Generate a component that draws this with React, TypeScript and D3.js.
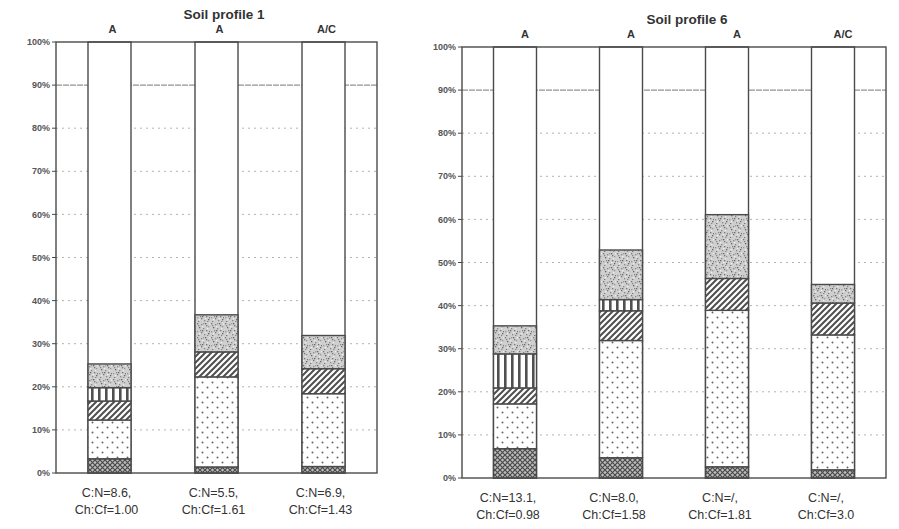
import React from "react";
import * as d3 from "d3";

// ---------- data ----------
const layerKeys = ["crosshatch", "dots", "diagonal", "vertical", "stipple"];

// Soil profile 1
const p1Horizons = ["A", "A", "A/C"];
const p1CN = ["C:N=8.6,", "C:N=5.5,", "C:N=6.9,"];
const p1ChCf = ["Ch:Cf=1.00", "Ch:Cf=1.61", "Ch:Cf=1.43"];
const p1Crosshatch = [3.3, 1.4, 1.5];
const p1Dots = [9.0, 20.9, 16.9];
const p1Diagonal = [4.4, 5.8, 5.8];
const p1Vertical = [3.1, 0, 0];
const p1Stipple = [5.5, 8.6, 7.7];

// Soil profile 6
const p6Horizons = ["A", "A", "A", "A/C"];
const p6CN = ["C:N=13.1,", "C:N=8.0,", "C:N=/,", "C:N=/,"];
const p6ChCf = ["Ch:Cf=0.98", "Ch:Cf=1.58", "Ch:Cf=1.81", "Ch:Cf=3.0"];
const p6Crosshatch = [6.8, 4.7, 2.6, 1.9];
const p6Dots = [10.4, 27.2, 36.3, 31.3];
const p6Diagonal = [3.7, 6.9, 7.4, 7.4];
const p6Vertical = [7.9, 2.6, 0, 0];
const p6Stipple = [6.5, 11.5, 14.8, 4.3];

const yTicks = [0, 10, 20, 30, 40, 50, 60, 70, 80, 90, 100];

const FONT = "'Liberation Sans', Arial, sans-serif";
const INK = "#4a4a4a";

function buildRows(cols: number, arrs: number[][]) {
  return d3.range(cols).map((i) => {
    const r: any = { i };
    layerKeys.forEach((k, j) => (r[k] = arrs[j][i]));
    return r;
  });
}

const fills: Record<string, string> = {
  crosshatch: "url(#pCross)",
  dots: "url(#pDots)",
  diagonal: "url(#pDiag)",
  vertical: "url(#pVert)",
  stipple: "url(#pStip)",
};

type PanelProps = {
  title: string;
  titleX: number;
  titleY: number;
  horizons: string[];
  cn: string[];
  chcf: string[];
  rows: any[];
  x0: number;
  x1: number;
  yTop: number;
  yBot: number;
  headerY: number;
  headerDx: number;
  labelY: number;
  labelDx: number;
};

function Panel(p: PanelProps) {
  const n = p.rows.length;
  const x = d3
    .scalePoint<number>()
    .domain(d3.range(n))
    .range([p.x0, p.x1])
    .padding(0.5);
  const y = d3.scaleLinear().domain([0, 100]).range([p.yBot, p.yTop]);
  const bw = 43;
  const stack = d3.stack<any>().keys(layerKeys)(p.rows);

  return (
    <g>
      <text
        x={p.titleX}
        y={p.titleY}
        textAnchor="middle"
        fontFamily={FONT}
        fontSize={13.5}
        fontWeight="bold"
        fill="#333"
      >
        {p.title}
      </text>
      {/* grid */}
      {yTicks
        .filter((t) => t > 0 && t < 100)
        .map((t) => (
          <line
            key={"g" + t}
            x1={p.x0}
            x2={p.x1}
            y1={y(t)}
            y2={y(t)}
            stroke={t === 90 ? "#777" : "#aaa"}
            strokeWidth={t === 90 ? 1 : 0.9}
            strokeDasharray={t === 90 ? "6 1" : "2 4"}
          />
        ))}
      {/* y ticks & labels */}
      {yTicks.map((t) => (
        <g key={"t" + t}>
          <line x1={p.x0 - 4} x2={p.x0} y1={y(t)} y2={y(t)} stroke={INK} strokeWidth={1} />
          <text
            x={p.x0 - 6}
            y={y(t)}
            dy="0.35em"
            textAnchor="end"
            fontFamily={FONT}
            fontSize={9}
            fontWeight="bold"
            fill="#555"
          >
            {t + "%"}
          </text>
        </g>
      ))}
      {/* bar columns (full height, white) */}
      {p.rows.map((r, i) => (
        <rect
          key={"c" + i}
          x={(x(i) as number) - bw / 2}
          y={y(100)}
          width={bw}
          height={y(0) - y(100)}
          fill="#fff"
          stroke={INK}
          strokeWidth={1.4}
        />
      ))}
      {/* stacked segments */}
      {stack.map((s) =>
        s.map((d, i) =>
          d[1] - d[0] > 0 ? (
            <rect
              key={s.key + i}
              x={(x(i) as number) - bw / 2}
              y={y(d[1])}
              width={bw}
              height={y(d[0]) - y(d[1])}
              fill={fills[s.key]}
              stroke={INK}
              strokeWidth={1.4}
            />
          ) : null
        )
      )}
      {/* frame */}
      <rect
        x={p.x0}
        y={y(100)}
        width={p.x1 - p.x0}
        height={y(0) - y(100)}
        fill="none"
        stroke={INK}
        strokeWidth={1.4}
      />
      {/* horizon headers */}
      {p.horizons.map((h, i) => (
        <text
          key={"h" + i}
          x={(x(i) as number) + p.headerDx}
          y={p.headerY}
          textAnchor="middle"
          fontFamily={FONT}
          fontSize={11}
          fontWeight="bold"
          fill="#333"
        >
          {h}
        </text>
      ))}
      {/* bottom labels */}
      {p.cn.map((c, i) => (
        <text
          key={"l" + i}
          x={(x(i) as number) + p.labelDx}
          y={p.labelY}
          textAnchor="middle"
          fontFamily={FONT}
          fontSize={12.5}
          fill="#333"
        >
          <tspan x={(x(i) as number) + p.labelDx} dy={0}>
            {c}
          </tspan>
          <tspan x={(x(i) as number) + p.labelDx} dy={16.5}>
            {p.chcf[i]}
          </tspan>
        </text>
      ))}
    </g>
  );
}

export default function App() {
  const rows1 = buildRows(3, [p1Crosshatch, p1Dots, p1Diagonal, p1Vertical, p1Stipple]);
  const rows6 = buildRows(4, [p6Crosshatch, p6Dots, p6Diagonal, p6Vertical, p6Stipple]);
  const specks: [number, number, string][] = [
    [1, 1, "#777"], [5, 2, "#888"], [9, 1, "#666"], [12, 4, "#999"], [3, 5, "#666"],
    [7, 6, "#888"], [10, 8, "#777"], [1, 9, "#999"], [5, 10, "#777"], [12, 11, "#666"],
    [8, 12, "#888"], [2, 13, "#777"], [6, 4, "#eee"], [11, 6, "#eee"], [3, 11, "#eee"],
    [9, 10, "#eee"], [13, 1, "#eee"], [4, 8, "#888"], [13, 9, "#777"], [7, 1, "#999"],
    [2, 3, "#888"], [10, 3, "#777"], [6, 8, "#666"], [11, 13, "#888"],
  ];
  return (
    <div style={{ position: "fixed", left: 0, top: 0 }}>
      <svg width={899} height={529} style={{ display: "block", background: "#fff" }}>
        <defs>
          <pattern id="pCross" width={5} height={5} patternUnits="userSpaceOnUse">
            <rect width={5} height={5} fill="#bdbdbd" />
            <path d="M0,0L5,5M5,0L0,5" stroke="#4a4a4a" strokeWidth={1.2} />
          </pattern>
          <pattern id="pDots" width={10} height={10} patternUnits="userSpaceOnUse">
            <rect width={10} height={10} fill="#fff" />
            <circle cx={2.5} cy={2.5} r={1} fill="#666" />
            <circle cx={7.5} cy={7.5} r={1} fill="#666" />
          </pattern>
          <pattern id="pDiag" width={6} height={6} patternUnits="userSpaceOnUse">
            <rect width={6} height={6} fill="#fff" />
            <path d="M-1,7L7,-1M-1,1L1,-1M5,7L7,5" stroke="#4f4f4f" strokeWidth={2} />
          </pattern>
          <pattern id="pVert" width={7} height={7} patternUnits="userSpaceOnUse">
            <rect width={7} height={7} fill="#fff" />
            <rect x={0} width={2.6} height={7} fill="#505050" />
          </pattern>
          <pattern id="pStip" width={14} height={14} patternUnits="userSpaceOnUse">
            <rect width={14} height={14} fill="#cfcfcf" />
            {specks.map(([a, b, c], k) => (
              <rect key={k} x={a} y={b} width={1.3} height={1.3} fill={c} />
            ))}
          </pattern>
        </defs>
        <Panel
          title="Soil profile 1"
          titleX={224}
          titleY={19}
          horizons={p1Horizons}
          cn={p1CN}
          chcf={p1ChCf}
          rows={rows1}
          x0={56}
          x1={377}
          yTop={42}
          yBot={473}
          headerY={33}
          headerDx={3}
          labelY={497}
          labelDx={-3}
        />
        <Panel
          title="Soil profile 6"
          titleX={687}
          titleY={24}
          horizons={p6Horizons}
          cn={p6CN}
          chcf={p6ChCf}
          rows={rows6}
          x0={462}
          x1={886}
          yTop={47}
          yBot={478}
          headerY={38}
          headerDx={10}
          labelY={502}
          labelDx={-7}
        />
      </svg>
    </div>
  );
}
